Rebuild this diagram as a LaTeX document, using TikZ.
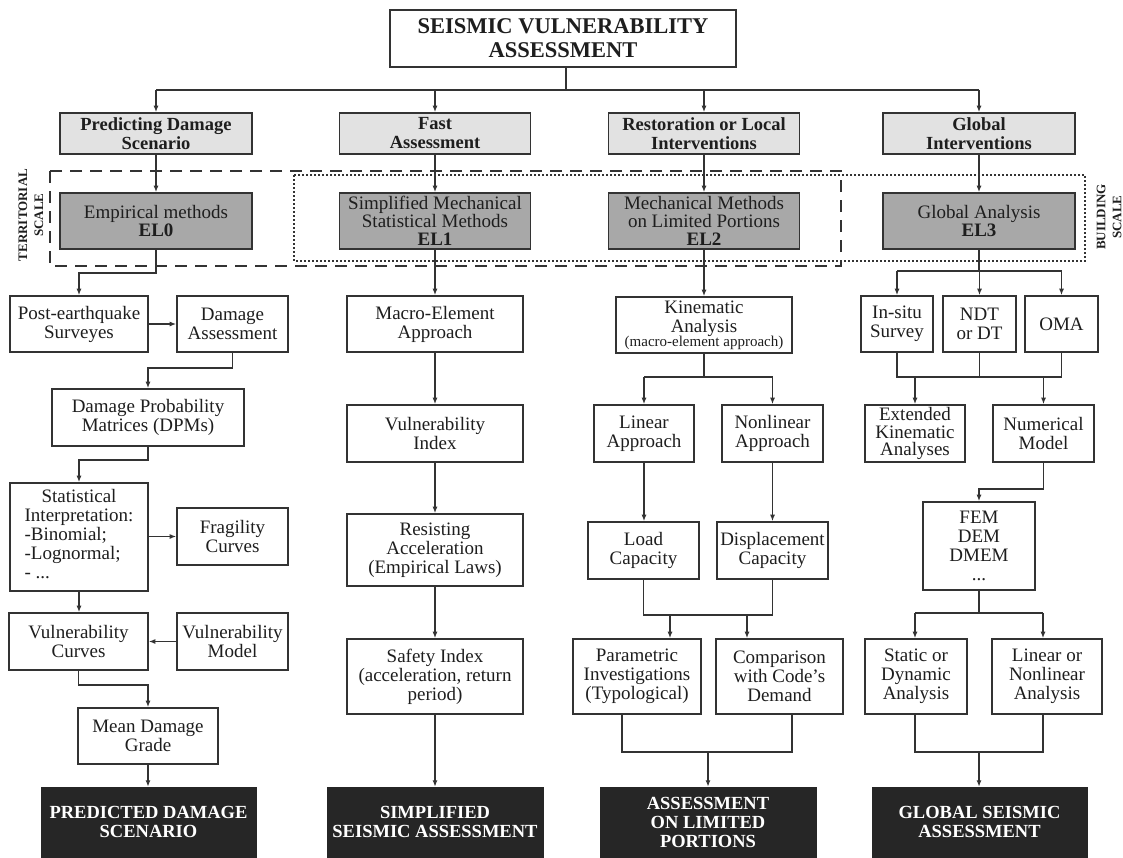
\documentclass[tikz,border=0pt]{standalone}
\usepackage{fontspec}
\setmainfont{Liberation Serif}
\usetikzlibrary{arrows.meta}
\definecolor{ln}{HTML}{333333}
\definecolor{catfill}{HTML}{E2E2E2}
\definecolor{elfill}{HTML}{A8A8A8}
\definecolor{blk}{HTML}{262626}
\definecolor{txt}{HTML}{1E1E1E}
\newcommand\fbody{\fontsize{19}{19}\selectfont}
\newcommand\ftight{\fontsize{19}{17.5}\selectfont}
\newcommand\fel{\fontsize{19}{18}\selectfont}
\newcommand\fcat{\fontsize{18.5}{19}\selectfont\bfseries}
\newcommand\ftitle{\fontsize{22.5}{24}\selectfont\bfseries}
\newcommand\fsmall{\fontsize{15}{15}\selectfont}
\newcommand\flabel{\fontsize{13}{16}\selectfont\bfseries}
\begin{document}
\begin{tikzpicture}[x=1pt,y=-1pt,
  sz/.style 2 args={minimum width=#1pt,minimum height=#2pt},
  box/.style={draw=ln,line width=1.6pt,fill=white,align=center,inner sep=0pt,text=txt,font=\fbody},
  catbox/.style={box,fill=catfill,font=\fcat},
  elbox/.style={box,fill=elfill,font=\fel},
  outbox/.style={draw=blk,fill=blk,text=white,align=center,inner sep=0pt,font=\fcat},
  arr/.style={draw=ln,line width=1.5pt,-{Latex[length=6.5pt,width=5pt]}},
  link/.style={draw=ln,line width=1.5pt},
  dashedbox/.style={draw=ln,line width=2.2pt,dash pattern=on 12pt off 8pt},
  dotbox/.style={draw=ln,line width=2pt,dash pattern=on 2pt off 2pt},
  scalelabel/.style={font=\flabel,rotate=90,align=center,text=txt,inner sep=0pt}]
\useasboundingbox (0,0) rectangle (1123,857);

% scale frames
\draw[dashedbox] (50,171) rectangle (841,266);
\draw[dotbox] (294,175) rectangle (1085,261);
\node[scalelabel] (terr) at (31,215) {TERRITORIAL\\SCALE};
\node[scalelabel] (bldg) at (1109,217) {BUILDING\\SCALE};

% title and categories
\node[box,sz={346}{57},font=\ftitle] (title) at (563,38.5) {SEISMIC VULNERABILITY\\ASSESSMENT};
\node[catbox,sz={192}{41}] (cat1) at (156,133.5) {Predicting Damage\\Scenario};
\node[catbox,sz={191}{41}] (cat2) at (435,133.5) {Fast\\Assessment};
\node[catbox,sz={191}{41}] (cat3) at (704,133.5) {Restoration or Local\\Interventions};
\node[catbox,sz={192}{41}] (cat4) at (979,133.5) {Global\\Interventions};

\node[elbox,sz={192}{56}] (el0) at (156,221) {Empirical methods\\\textbf{EL0}};
\node[elbox,sz={191}{56}] (el1) at (435,221) {Simplified Mechanical\\Statistical Methods\\\textbf{EL1}};
\node[elbox,sz={191}{56}] (el2) at (704,221) {Mechanical Methods\\on Limited Portions\\\textbf{EL2}};
\node[elbox,sz={192}{56}] (el3) at (979,221) {Global Analysis\\\textbf{EL3}};

% column 1
\node[box,sz={138}{56}] (post) at (79,324) {Post-earthquake\\Surveyes};
\node[box,sz={111}{56}] (dmgA) at (232.5,324) {Damage\\Assessment};
\node[box,sz={192}{57}] (dpm) at (148,417.5) {Damage Probability\\Matrices (DPMs)};
\node[box,sz={138}{108}] (stat) at (79,537) {\begin{tabular}{@{}l@{}}\multicolumn{1}{@{}c@{}}{Statistical}\\Interpretation:\\-Binomial;\\-Lognormal;\\- ...\end{tabular}};
\node[box,sz={111}{57}] (frag) at (232.5,536.5) {Fragility\\Curves};
\node[box,sz={139}{57}] (vcurv) at (78.5,641.5) {Vulnerability\\Curves};
\node[box,sz={111}{57}] (vmod) at (232.5,641.5) {Vulnerability\\Model};
\node[box,sz={140}{56}] (mean) at (148,736) {Mean Damage\\Grade};
\node[outbox,sz={215}{70}] (black1) at (148.5,822) {PREDICTED DAMAGE\\SCENARIO};

% column 2
\node[box,sz={176}{56}] (macro) at (435,324) {Macro-Element\\Approach};
\node[box,sz={176}{57}] (vindex) at (435,433.5) {Vulnerability\\Index};
\node[box,sz={176}{72}] (resist) at (435,550) {Resisting\\Acceleration\\(Empirical Laws)};
\node[box,sz={176}{75}] (safety) at (435,676.5) {Safety Index\\(acceleration, return\\period)};
\node[outbox,sz={216}{70}] (black2) at (435,822) {SIMPLIFIED\\SEISMIC ASSESSMENT};

% column 3
\node[box,sz={176}{56}] (kin) at (704,325) {Kinematic\\Analysis\\[-5pt]{\fsmall(macro-element approach)}};
\node[box,sz={100}{57}] (lin) at (644,433.5) {Linear\\Approach};
\node[box,sz={101}{57}] (nonlin) at (772.5,433.5) {Nonlinear\\Approach};
\node[box,sz={111}{57}] (load) at (643.5,550.5) {Load\\Capacity};
\node[box,sz={111}{57}] (disp) at (772.5,550.5) {Displacement\\Capacity};
\node[box,sz={128}{75}] (param) at (637,676.5) {Parametric\\Investigations\\(Typological)};
\node[box,sz={127}{75}] (comp) at (779.5,676.5) {Comparison\\with Code’s\\Demand};
\node[outbox,sz={216}{70}] (black3) at (708,822) {ASSESSMENT\\ON LIMITED\\PORTIONS};

% column 4
\node[box,sz={72}{56}] (insitu) at (897,324) {In-situ\\Survey};
\node[box,sz={73}{56}] (ndt) at (979.5,324) {NDT\\or DT};
\node[box,sz={73}{56}] (oma) at (1061.5,324) {OMA};
\node[box,sz={100}{57},font=\ftight] (ext) at (915,433.5) {Extended\\Kinematic\\Analyses};
\node[box,sz={101}{57}] (num) at (1043.5,433.5) {Numerical\\Model};
\node[box,sz={112}{88}] (fem) at (979,546) {FEM\\DEM\\DMEM\\...};
\node[box,sz={102}{75}] (static) at (916,676.5) {Static or\\Dynamic\\Analysis};
\node[box,sz={110}{75}] (linnl) at (1047,676.5) {Linear or\\Nonlinear\\Analysis};
\node[outbox,sz={215}{70}] (black4) at (979.5,822) {GLOBAL SEISMIC\\ASSESSMENT};

% top connectors
\coordinate (hub) at (566,90);
\draw[link] (title.south -| hub) -- (hub);
\draw[link] (cat1.north |- hub) -- (cat4.north |- hub);
\foreach \c in {cat1,cat2,cat3,cat4}{\draw[arr] (\c.north |- hub) -- (\c.north);}
\draw[arr] (cat1.south) -- (el0.north);
\draw[arr] (cat2.south) -- (el1.north);
\draw[arr] (cat3.south) -- (el2.north);
\draw[arr] (cat4.south) -- (el3.north);

% column 1 connectors
\draw[arr] (el0.south) -- ++(0,23) -| (post.north);
\draw[arr] (post.east) -- (dmgA.west);
\draw[arr] (dmgA.south) -- ++(0,15) -| (dpm.north);
\draw[arr] (dpm.south) -- ++(0,13) -| (stat.north);
\draw[arr] (stat.east |- frag.west) -- (frag.west);
\draw[arr] (stat.south) -- (stat.south |- vcurv.north);
\draw[arr] (vmod.west) -- (vcurv.east);
\draw[arr] (vcurv.south) -- ++(0,14) -| (mean.north);
\draw[arr] (mean.south) -- (mean.south |- black1.north);

% column 2 connectors
\draw[arr] (el1.south) -- (macro.north);
\draw[arr] (macro.south) -- (vindex.north);
\draw[arr] (vindex.south) -- (resist.north);
\draw[arr] (resist.south) -- (safety.north);
\draw[arr] (safety.south) -- (black2.north);

% column 3 connectors
\draw[arr] (el2.south) -- (kin.north);
\coordinate (j3) at (704,377);
\draw[link] (kin.south) -- (j3);
\draw[link] (lin.north |- j3) -- (nonlin.north |- j3);
\draw[arr] (lin.north |- j3) -- (lin.north);
\draw[arr] (nonlin.north |- j3) -- (nonlin.north);
\draw[arr] (lin.south) -- (lin.south |- load.north);
\draw[arr] (nonlin.south) -- (nonlin.south |- disp.north);
\draw[link] (load.south) -- ++(0,35) -| (disp.south);
\coordinate (pa) at (670,614);
\coordinate (pb) at (747,614);
\draw[arr] (pa) -- (pa |- param.north);
\draw[arr] (pb) -- (pb |- comp.north);
\coordinate (qa) at (622,752);
\coordinate (qb) at (792,752);
\coordinate (qc) at (708,752);
\draw[link] (qa |- param.south) -- (qa) -- (qb) -- (qb |- comp.south);
\draw[arr] (qc) -- (black3.north);

% column 4 connectors
\coordinate (h4) at (979,271);
\draw[link] (el3.south) -- (h4);
\draw[link] (insitu.north |- h4) -- (oma.north |- h4);
\draw[arr] (insitu.north |- h4) -- (insitu.north);
\draw[arr] (ndt.north |- h4) -- (ndt.north);
\draw[arr] (oma.north |- h4) -- (oma.north);
\coordinate (j4) at (979,377);
\draw[link] (insitu.south) -- (insitu.south |- j4) -- (oma.south |- j4) -- (oma.south);
\draw[link] (ndt.south) -- (ndt.south |- j4);
\draw[arr] (ext.north |- j4) -- (ext.north);
\draw[arr] (num.north |- j4) -- (num.north);
\draw[arr] (num.south) -- ++(0,26) -| (fem.north);
\coordinate (k4) at (979,613);
\coordinate (k4a) at (915,613);
\coordinate (k4b) at (1043,613);
\draw[link] (fem.south) -- (k4);
\draw[link] (k4a) -- (k4b);
\draw[arr] (k4a) -- (k4a |- static.north);
\draw[arr] (k4b) -- (k4b |- linnl.north);
\coordinate (m4a) at (915,752);
\coordinate (m4b) at (1043,752);
\coordinate (m4c) at (979,752);
\draw[link] (m4a |- static.south) -- (m4a) -- (m4b) -- (m4b |- linnl.south);
\draw[arr] (m4c) -- (m4c |- black4.north);
\end{tikzpicture}
\end{document}
